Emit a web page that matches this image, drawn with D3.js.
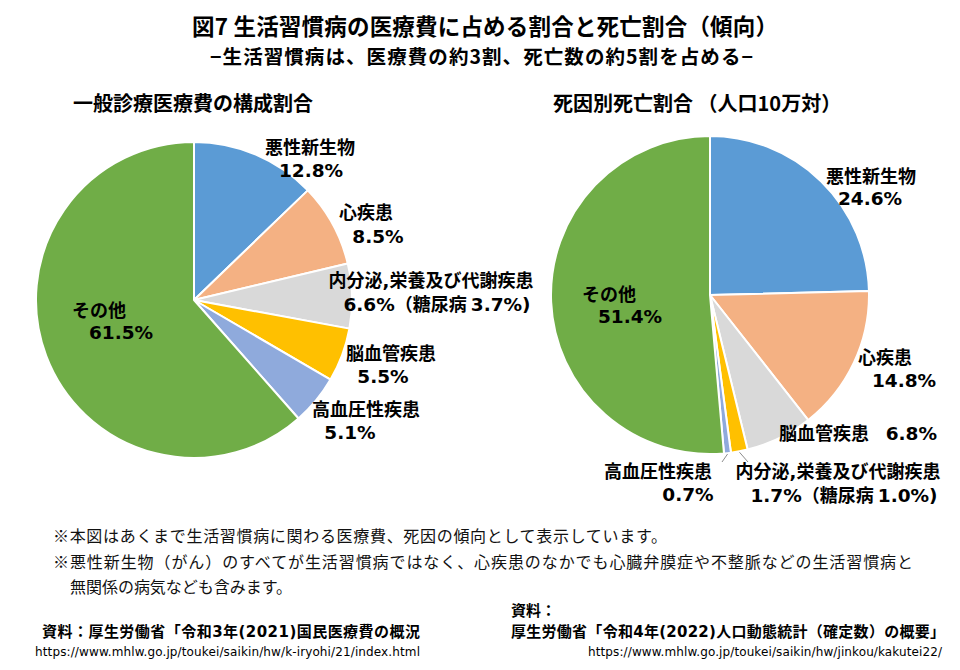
<!DOCTYPE html>
<html>
<head>
<meta charset="utf-8">
<script src="https://cdn.jsdelivr.net/npm/d3@7"></script>
<style>
  body { margin: 0; background: #fff; }
  svg { display: block; }
</style>
</head>
<body>
<svg id="chart" width="960" height="670"></svg>
<script>
// data for the two pies
var costCats = ["悪性新生物", "心疾患", "内分泌,栄養及び代謝疾患", "脳血管疾患", "高血圧性疾患", "その他"];
var costValues = [12.8, 8.5, 6.6, 5.5, 5.1, 61.5];
var costDiabetes = 3.7;

var deathCats = ["悪性新生物", "心疾患", "脳血管疾患", "内分泌,栄養及び代謝疾患", "高血圧性疾患", "その他"];
var deathValues = [24.6, 14.8, 6.8, 1.7, 0.7, 51.4];
var deathDiabetes = 1.0;

var sliceColors = ["#5B9BD5", "#F4B183", "#D9D9D9", "#FFC000", "#8FAADC", "#70AD47"];

var JP = "'Noto Sans CJK JP', sans-serif";
var NUM = "'DejaVu Sans', 'Noto Sans CJK JP', sans-serif";

var svg = d3.select("#chart");

// titles
svg.append("text")
    .attr("x", 192).attr("y", 27).attr("dy", "0.35em")
    .attr("textLength", 586)
    .style("font-family", JP).style("font-weight", "bold").style("font-size", "22.5px")
    .text("図7 生活習慣病の医療費に占める割合と死亡割合（傾向）");

svg.append("text")
    .attr("x", 210).attr("y", 57).attr("dy", "0.35em")
    .attr("textLength", 543)
    .style("font-family", JP).style("font-weight", "bold").style("font-size", "19.5px")
    .text("−生活習慣病は、医療費の約3割、死亡数の約5割を占める−");

svg.append("text")
    .attr("x", 73).attr("y", 104).attr("dy", "0.35em")
    .style("font-family", JP).style("font-weight", "bold").style("font-size", "20px")
    .text("一般診療医療費の構成割合");

svg.append("text")
    .attr("x", 553).attr("y", 104).attr("dy", "0.35em")
    .style("font-family", JP).style("font-weight", "bold").style("font-size", "20px")
    .text("死因別死亡割合 （人口10万対）");

var fmt = function(v) { return v.toFixed(1) + "%"; };

// label placement (layout only)
var costLabels = [
  {x1: 310, y1: 148, x2: 311, y2: 171},
  {x1: 366, y1: 213, x2: 378, y2: 237},
  {x1: 431, y1: 281, x2: 437, y2: 305, extra: costDiabetes},
  {x1: 391, y1: 354, x2: 383, y2: 377},
  {x1: 366, y1: 410, x2: 350, y2: 433},
  {x1: 99, y1: 311, x2: 121, y2: 333}
];
var deathLabels = [
  {x1: 871, y1: 177, x2: 870, y2: 199},
  {x1: 885, y1: 358, x2: 904, y2: 381},
  {x1: 779, y1: 434, x2: 937, y2: 434, inline: true},
  {x1: 838, y1: 472, x2: 844, y2: 496, extra: deathDiabetes, leader: [748, 462]},
  {x1: 658, y1: 472, x2: 688, y2: 495, leader: [722, 462]},
  {x1: 609, y1: 295, x2: 630, y2: 317}
];

function drawPie(cx, cy, r, cats, values, labels) {
  var g = svg.append("g").attr("transform", "translate(" + cx + "," + cy + ")");
  var pie = d3.pie().sort(null).value(function(d) { return d; });
  var arcs = pie(values);
  var arc = d3.arc().innerRadius(0).outerRadius(r);

  g.selectAll("path.slice")
    .data(arcs)
    .enter()
    .append("path")
    .attr("class", "slice")
    .attr("d", arc)
    .attr("fill", function(d, i) { return sliceColors[i]; })
    .attr("stroke", "#fff")
    .attr("stroke-width", 2)
    .attr("stroke-linejoin", "round");

  arcs.forEach(function(a, i) {
    var L = labels[i];
    if (L.leader) {
      var mid = (a.startAngle + a.endAngle) / 2;
      svg.append("line")
        .attr("x1", cx + Math.sin(mid) * (r + 1))
        .attr("y1", cy - Math.cos(mid) * (r + 1))
        .attr("x2", L.leader[0]).attr("y2", L.leader[1])
        .attr("stroke", "#8c8c8c").attr("stroke-width", 1);
    }
    if (L.inline) {
      svg.append("text")
        .attr("x", L.x1).attr("y", L.y1).attr("dy", "0.35em")
        .style("font-family", JP).style("font-weight", "bold").style("font-size", "18px")
        .text(cats[i]);
      svg.append("text")
        .attr("x", L.x2).attr("y", L.y2).attr("dy", "0.35em")
        .attr("text-anchor", "end")
        .style("font-family", NUM).style("font-weight", "bold").style("font-size", "18.5px")
        .text(fmt(a.data));
      return;
    }
    svg.append("text")
      .attr("x", L.x1).attr("y", L.y1).attr("dy", "0.35em")
      .attr("text-anchor", "middle")
      .style("font-family", NUM).style("font-weight", "bold").style("font-size", "18px")
      .text(cats[i]);
    var t = svg.append("text")
      .attr("x", L.x2).attr("y", L.y2).attr("dy", "0.35em")
      .attr("text-anchor", "middle")
      .style("font-family", NUM).style("font-weight", "bold").style("font-size", "18.5px");
    t.append("tspan").text(fmt(a.data));
    if (L.extra !== undefined) {
      t.append("tspan").style("font-family", JP).style("font-size", "18px").text("（糖尿病 ");
      t.append("tspan").text(fmt(L.extra) + ")");
    }
  });
}

drawPie(194, 300, 158, costCats, costValues, costLabels);
drawPie(710, 295, 159, deathCats, deathValues, deathLabels);

// notes
var notes = [
  {x: 53, y: 536, w: 614, t: "※本図はあくまで生活習慣病に関わる医療費、死因の傾向として表示しています。"},
  {x: 53, y: 562, w: 860, t: "※悪性新生物（がん）のすべてが生活習慣病ではなく、心疾患のなかでも心臓弁膜症や不整脈などの生活習慣病と"},
  {x: 70, y: 587, w: 222, t: "無関係の病気なども含みます。"}
];
notes.forEach(function(n) {
  svg.append("text")
    .attr("x", n.x).attr("y", n.y).attr("dy", "0.35em")
    .attr("textLength", n.w)
    .style("font-family", JP).style("font-size", "16px").style("fill", "#111")
    .text(n.t);
});

// sources
svg.append("text")
  .attr("x", 42).attr("y", 632).attr("dy", "0.35em")
  .attr("textLength", 378)
  .style("font-family", NUM).style("font-weight", "bold").style("font-size", "15px")
  .text("資料：厚生労働省「令和3年(2021)国民医療費の概況");
svg.append("text")
  .attr("x", 35).attr("y", 652).attr("dy", "0.35em")
  .attr("textLength", 385)
  .style("font-family", "'DejaVu Sans', sans-serif").style("font-size", "12px")
  .text("https://www.mhlw.go.jp/toukei/saikin/hw/k-iryohi/21/index.html");

svg.append("text")
  .attr("x", 511).attr("y", 611).attr("dy", "0.35em")
  .style("font-family", JP).style("font-weight", "bold").style("font-size", "15px")
  .text("資料：");
svg.append("text")
  .attr("x", 511).attr("y", 632).attr("dy", "0.35em")
  .attr("textLength", 434)
  .style("font-family", NUM).style("font-weight", "bold").style("font-size", "15px")
  .text("厚生労働省「令和4年(2022)人口動態統計（確定数）の概要」");
svg.append("text")
  .attr("x", 588).attr("y", 652).attr("dy", "0.35em")
  .attr("textLength", 354)
  .style("font-family", "'DejaVu Sans', sans-serif").style("font-size", "12px")
  .text("https://www.mhlw.go.jp/toukei/saikin/hw/jinkou/kakutei22/");
</script>
</body>
</html>
